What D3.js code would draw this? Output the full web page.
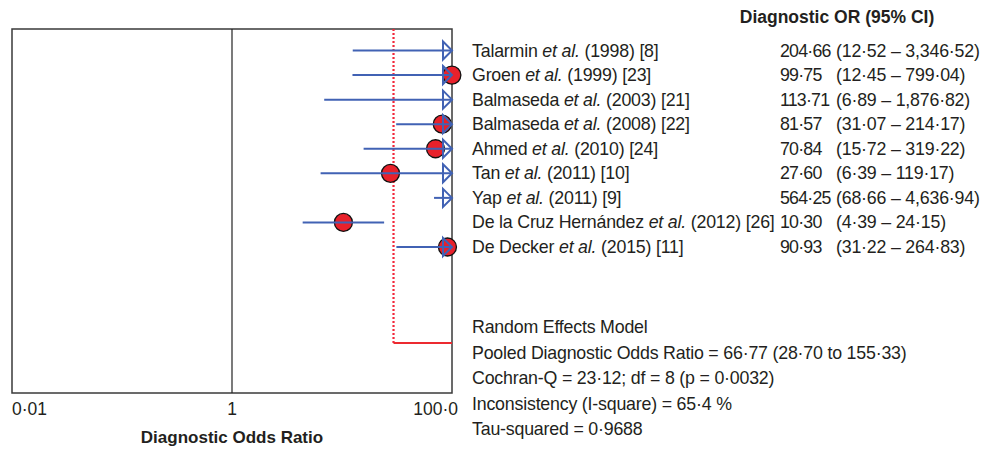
<!DOCTYPE html>
<html>
<head>
<meta charset="utf-8">
<script src="https://cdn.jsdelivr.net/npm/d3@7"></script>
<style>
  body { margin: 0; background: #fff; }
  text { font-family: "Liberation Sans", Arial, sans-serif; fill: #231f20; }
  .tbl { font-size: 17.8px; letter-spacing: -0.2px; }
  .or { letter-spacing: -0.8px; }
</style>
</head>
<body>
<div id="chart-area"></div>
<script>
// study data
const authors = ["Talarmin", "Groen", "Balmaseda", "Balmaseda", "Ahmed", "Tan", "Yap",
                 "De la Cruz Hernández", "De Decker"]
const refs = ["(1998) [8]", "(1999) [23]", "(2003) [21]", "(2008) [22]", "(2010) [24]",
              "(2011) [10]", "(2011) [9]", "(2012) [26]", "(2015) [11]"]
const oddsRatio = [204.66, 99.75, 113.71, 81.57, 70.84, 27.60, 564.25, 10.30, 90.93]
const ciLow = [12.52, 12.45, 6.89, 31.07, 15.72, 6.39, 68.66, 4.39, 31.22]
const ciHigh = [3346.52, 799.04, 1876.82, 214.17, 319.22, 119.17, 4636.94, 24.15, 264.83]
const orText = ["204·66", "99·75", "113·71", "81·57", "70·84", "27·60", "564·25", "10·30", "90·93"]
const ciText = ["(12·52 – 3,346·52)", "(12·45 – 799·04)", "(6·89 – 1,876·82)", "(31·07 – 214·17)",
                "(15·72 – 319·22)", "(6·39 – 119·17)", "(68·66 – 4,636·94)", "(4·39 – 24·15)",
                "(31·22 – 264·83)"]

const xTicks = [0.01, 1, 100]
const xTickLabels = ["0·01", "1", "100·0"]
const refLine = 29.4   // where the dotted red line sits on the log axis

const statsLines = [
  "Random Effects Model",
  "Pooled Diagnostic Odds Ratio = 66·77 (28·70 to 155·33)",
  "Cochran-Q = 23·12; df = 8 (p = 0·0032)",
  "Inconsistency (I-square) = 65·4 %",
  "Tau-squared = 0·9688"
]

const width = 1005, height = 451
const plot = {left: 12, right: 452, top: 29, bottom: 393}

const svg = d3.select("#chart-area")
  .append("svg")
    .attr("width", width)
    .attr("height", height)

const x = d3.scaleLog()
  .domain([0.01, 100])
  .range([plot.left, plot.right])

const y = d3.scalePoint()
  .domain(d3.range(authors.length))
  .range([50.5, 247])

const blue = "#4162b4", red = "#e8212b"

// frame
svg.append("rect")
  .attr("x", plot.left).attr("y", plot.top)
  .attr("width", plot.right - plot.left).attr("height", plot.bottom - plot.top)
  .attr("fill", "none").attr("stroke", "#3a3a3a").attr("stroke-width", 1.5)

// line at OR = 1
svg.append("line")
  .attr("x1", x(1)).attr("x2", x(1))
  .attr("y1", plot.top).attr("y2", plot.bottom)
  .attr("stroke", "#222").attr("stroke-width", 1.2)

// dotted reference line and its foot
const footY = 343
svg.append("line")
  .attr("x1", x(refLine)).attr("x2", x(refLine))
  .attr("y1", plot.top).attr("y2", footY)
  .attr("stroke", "#f2283a").attr("stroke-width", 2.2)
  .attr("stroke-dasharray", "2,2")
svg.append("line")
  .attr("x1", x(refLine)).attr("x2", x(100))
  .attr("y1", footY).attr("y2", footY)
  .attr("stroke", "#ec2a30").attr("stroke-width", 2)

const rows = d3.range(authors.length)
const clip = v => Math.min(v, 100)

// points (only inside the axis range)
svg.selectAll("circle.pt")
  .data(rows.filter(i => oddsRatio[i] <= 100))
  .join("circle")
    .attr("class", "pt")
    .attr("cx", i => x(oddsRatio[i]))
    .attr("cy", i => y(i))
    .attr("r", 9)
    .attr("fill", red)
    .attr("stroke", "#111").attr("stroke-width", 1.3)

// CI lines
svg.selectAll("line.ci")
  .data(rows)
  .join("line")
    .attr("class", "ci")
    .attr("x1", i => x(ciLow[i]))
    .attr("x2", i => x(clip(ciHigh[i])))
    .attr("y1", i => y(i)).attr("y2", i => y(i))
    .attr("stroke", blue).attr("stroke-width", 2)

// open arrow heads where the upper limit runs off the axis
svg.selectAll("path.arrow")
  .data(rows.filter(i => ciHigh[i] > 100))
  .join("path")
    .attr("class", "arrow")
    .attr("d", i => {
      const tip = x(100), cy = y(i)
      return `M${tip - 9},${cy - 9} L${tip},${cy} L${tip - 9},${cy + 9} Z`
    })
    .attr("fill", "none")
    .attr("stroke", blue).attr("stroke-width", 2)

// x axis labels
const anchors = ["start", "middle", "end"]
const nudges = [0, 0, 6]
svg.selectAll("text.tick")
  .data(xTicks)
  .join("text")
    .attr("class", "tick")
    .attr("x", (d, i) => x(d) + nudges[i])
    .attr("y", 415)
    .attr("text-anchor", (d, i) => anchors[i])
    .style("font-size", "17.5px")
    .text((d, i) => xTickLabels[i])

svg.append("text")
  .attr("x", x(1)).attr("y", 443)
  .attr("text-anchor", "middle")
  .style("font-size", "17px").style("font-weight", "bold")
  .text("Diagnostic Odds Ratio")

// right side table
svg.append("text")
  .attr("x", 837).attr("y", 23)
  .attr("text-anchor", "middle")
  .style("font-size", "17.5px").style("font-weight", "bold")
  .text("Diagnostic OR (95% CI)")

const labels = svg.selectAll("text.study")
  .data(rows)
  .join("text")
    .attr("class", "study tbl")
    .attr("x", 472)
    .attr("y", i => y(i) + 6)
labels.append("tspan").text(i => authors[i] + " ")
labels.append("tspan").style("font-style", "italic").text("et al.")
labels.append("tspan").text(i => " " + refs[i])

svg.selectAll("text.or")
  .data(rows)
  .join("text")
    .attr("class", "tbl or")
    .attr("x", 780)
    .attr("y", i => y(i) + 6)
    .text(i => orText[i])

svg.selectAll("text.cinum")
  .data(rows)
  .join("text")
    .attr("class", "cinum tbl")
    .attr("x", 836)
    .attr("y", i => y(i) + 6)
    .text(i => ciText[i])

// model summary
svg.selectAll("text.stat")
  .data(statsLines)
  .join("text")
    .attr("class", "stat tbl")
    .attr("x", 472)
    .attr("y", (d, i) => 333 + i * 25.6)
    .text(d => d)
</script>
</body>
</html>
